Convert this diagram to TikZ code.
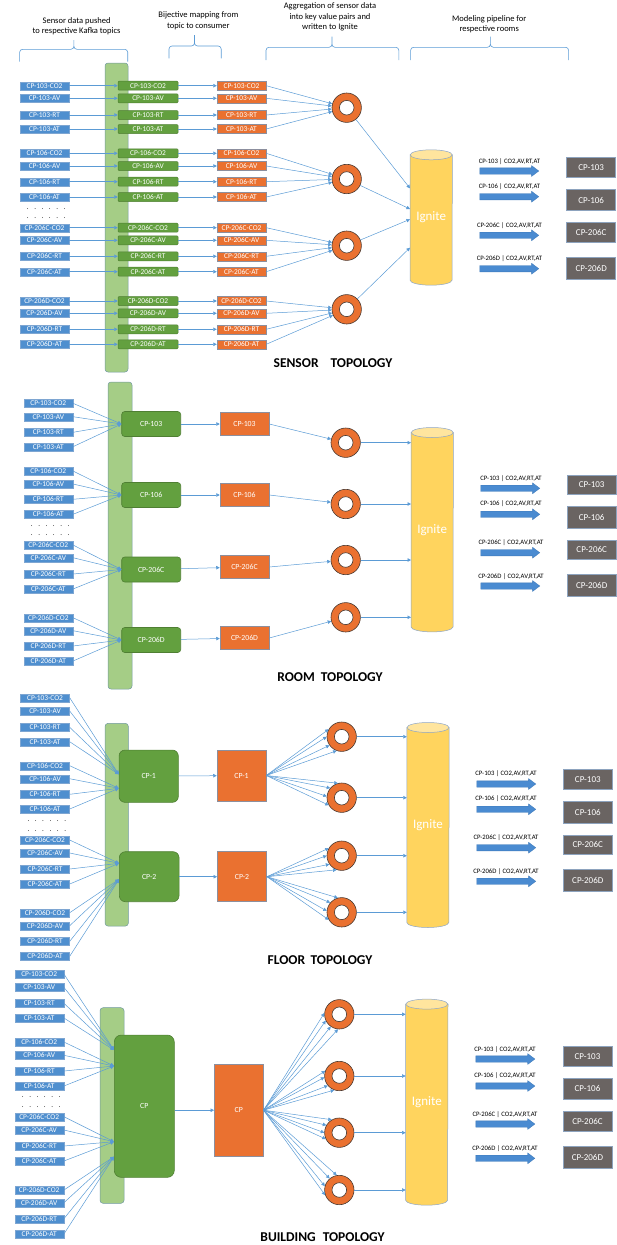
\documentclass[tikz,border=0pt]{standalone}
\usepackage{fontspec}
\setmainfont{Carlito}
\usetikzlibrary{arrows.meta,calc,shapes.arrows}
\pgfdeclarelayer{bg}
\pgfsetlayers{bg,main}
\definecolor{cBlue}{HTML}{4F8FCF}
\definecolor{cBlueD}{HTML}{7EA6D2}
\definecolor{cGreen}{HTML}{63A03F}
\definecolor{cGreenD}{HTML}{4F7F33}
\definecolor{cBar}{HTML}{A5CD86}
\definecolor{cBarD}{HTML}{7199A0}
\definecolor{cOrange}{HTML}{EA7130}
\definecolor{cOrangeD}{HTML}{8C8F9E}
\definecolor{cRingD}{HTML}{4A3A32}
\definecolor{cIg}{HTML}{FFD45E}
\definecolor{cIgTop}{HTML}{FFE59E}
\definecolor{cIgD}{HTML}{8CA5C8}
\definecolor{cGray}{HTML}{6A6462}
\definecolor{cGrayD}{HTML}{8DA3BE}
\definecolor{cLine}{HTML}{5B9BD5}
\definecolor{cArrow}{HTML}{4A8BD1}
\definecolor{cArrowD}{HTML}{3E79B8}
\tikzset{
 lbl/.style={text=white, inner sep=0pt, font=\fontsize{7.4}{8}\selectfont},
 bluebox/.style={lbl, fill=cBlue, draw=cBlueD, line width=0.4pt, minimum width=49pt, minimum height=8pt},
 greensm/.style={lbl, fill=cGreen, draw=cGreenD, line width=0.5pt, rounded corners=1pt, minimum width=60pt, minimum height=9pt},
 orangesm/.style={lbl, fill=cOrange, draw=cOrangeD, line width=0.4pt, minimum width=49pt, minimum height=9pt},
 greenbig/.style={lbl, font=\fontsize{7.8}{8}\selectfont, fill=cGreen, draw=cGreenD, line width=0.6pt},
 orangebig/.style={lbl, font=\fontsize{7.8}{8}\selectfont, fill=cOrange, draw=cOrangeD, line width=0.5pt},
 bar/.style={fill=cBar, draw=cBarD, line width=0.5pt, rounded corners=3pt, inner sep=0pt},
 ring/.style={circle, minimum size=29.4pt, inner sep=0pt, fill=cOrange, draw=cRingD, line width=0.6pt,
   path picture={\draw[cRingD, line width=0.6pt, fill=white] (path picture bounding box.center) circle[radius=7.3pt];}},
 conn/.style={draw=cLine, line width=0.5pt, -{Triangle[length=3.5pt,width=3.5pt]}},
 brace/.style={draw=cLine, line width=0.6pt},
 hdr/.style={align=center, font=\fontsize{8.5}{10.8}\selectfont, inner sep=0pt},
 ttl/.style={font=\fontsize{13.5}{15}\selectfont\bfseries, inner sep=0pt},
 rlab/.style={font=\fontsize{6.7}{8}\selectfont, inner sep=0pt},
 graybox/.style={fill=cGray, draw=cGrayD, line width=0.6pt, text=white, font=\fontsize{9}{10}\selectfont, minimum width=49pt, inner sep=0pt},
 barrow/.style={single arrow, fill=cArrow, draw=cArrowD, line width=0.3pt, minimum height=59pt, inner xsep=0pt, inner ysep=3pt, single arrow head extend=2.25pt, single arrow tip angle=74},
 igtext/.style={text=white, font=\fontsize{13}{15}\selectfont, inner sep=0pt, minimum width=42pt},
 dotrow/.style={font=\fontsize{7}{8}\selectfont, inner sep=0pt, anchor=west},
}
\newcommand\hbrace[6]{%
 \draw[brace] (#1,-#5) -- (#1,-#4-3) to[out=90,in=180] (#1+3,-#4) -- (#3-3,-#4) to[out=0,in=-90] (#3,-#4+3) -- (#3,-#6)
   -- (#3,-#4+3) to[out=-90,in=180] (#3+3,-#4) -- (#2-3,-#4) to[out=0,in=90] (#2,-#4-3) -- (#2,-#5);}
\newcommand\igcyl[4]{%
 \pgfmathsetmacro\igh{#4-#3}%
 \pgfmathsetmacro\igy{-(#3+#4)/2}%
 \node[igtext, minimum height=\igh pt] (#1) at (#2,\igy) {Ignite};
 \begin{pgfonlayer}{bg}
 \draw[draw=cIgD, line width=0.5pt, fill=cIg] (#1.north west) -- (#1.south west) arc[start angle=180, end angle=360, x radius=21pt, y radius=5pt] -- (#1.north east) -- cycle;
 \draw[draw=cIgD, line width=0.5pt, fill=cIgTop] (#1.north) ellipse[x radius=21pt, y radius=5pt];
 \end{pgfonlayer}}
\newcommand\dotsline{.\hspace{5.6pt}.\hspace{5.6pt}.\hspace{5.6pt}.\hspace{5.6pt}.\hspace{5.6pt}.}
\begin{document}
\begin{tikzpicture}[x=1pt,y=1pt]
\useasboundingbox (0,0) rectangle (616,-1245);
% ---------- headers
\node[hdr] (h1) at (76.6,-26.2) {Sensor data pushed\\to respective Kafka topics};
\node[hdr] (h2) at (198.4,-20.9) {Bijective mapping from\\topic to consumer};
\node[hdr] (h3) at (330,-16.9) {Aggregation of sensor data\\into key value pairs and\\written to Ignite};
\node[hdr] (h4) at (489.2,-24.2) {Modeling pipeline for\\respective rooms};
\hbrace{19.6}{127.7}{73.9}{49.3}{61.7}{40}
\hbrace{169}{221.2}{194.5}{46}{58.3}{35}
\hbrace{266}{398.8}{332}{47.3}{60}{36.7}
\hbrace{410.6}{568.6}{490.4}{47.3}{60}{36.7}
% ---------- SENSOR TOPOLOGY
\node[bar, minimum width=23pt, minimum height=309pt] (sbar) at (116.5,-217.5) {};
\foreach \y/\lab [count=\i] in {85.7/CP-103-CO2, 98.3/CP-103-AV, 115/CP-103-RT, 129/CP-103-AT, 153.3/CP-106-CO2, 166/CP-106-AV, 181.7/CP-106-RT, 197/CP-106-AT, 227.7/CP-206C-CO2, 240.3/CP-206C-AV, 256.3/CP-206C-RT, 271.7/CP-206C-AT, 301/CP-206D-CO2, 313.3/CP-206D-AV, 329.3/CP-206D-RT, 344.3/CP-206D-AT}{
  \node[bluebox] (sa\i) at (44.5,-\y) {\lab};
  \node[greensm] (sb\i) at (148,-\y) {\lab};
  \node[orangesm] (sc\i) at (241.5,-\y) {\lab};
}
\node[dotrow] (sd1) at (26.7,-209) {\dotsline};
\node[dotrow] (sd2) at (26.7,-218.3) {\dotsline};
\foreach \y [count=\k] in {107.7,179,245.7,309.3} \node[ring] (sr\k) at (346.7,-\y) {};
\igcyl{ig1}{431.2}{155}{280}
\coordinate (sI1) at ($(ig1.west)+(0,29.2)$);
\coordinate (sI2) at ($(ig1.west)+(0,8.5)$);
\coordinate (sI3) at ($(ig1.west)+(0,-1.8)$);
\coordinate (sI4) at ($(ig1.west)+(0,-30.2)$);
\foreach \i in {1,...,16}{
  \pgfmathtruncatemacro\grp{(\i-1)/4+1}
  \draw[conn] (sa\i) -- (sb\i);
  \draw[conn] (sb\i) -- (sc\i);
  \draw[conn] (sc\i.east) -- (sr\grp);
}
\foreach \k in {1,...,4} \draw[conn] (sr\k) -- (sI\k);
\foreach \ya/\yl/\yg/\hg/\lab [count=\k] in {171/161.7/167.5/20/CP-103, 196.7/186.7/200/21/CP-106, 235.3/225.7/232.5/20/CP-206C, 268.7/259/268/22/CP-206D}{
  \node[barrow] (sA\k) at (507.2,-\ya) {};
  \node[rlab] (sL\k) at (509.5,-\yl) {\lab{} | CO2,AV,RT,AT};
  \node[graybox, minimum height=\hg pt] (sG\k) at (591.2,-\yg) {\lab};
}
\node[ttl] (t1) at (333,-363) {SENSOR\hspace{12pt}TOPOLOGY};
% ---------- ROOM TOPOLOGY
\node[bar, minimum width=24pt, minimum height=307pt] (rbar) at (120,-535.5) {};
\foreach \y/\lab [count=\i] in {403.3/CP-103-CO2, 416.7/CP-103-AV, 432.3/CP-103-RT, 446.7/CP-103-AT, 471/CP-106-CO2, 484/CP-106-AV, 499.3/CP-106-RT, 514.3/CP-106-AT, 545/CP-206C-CO2, 557.7/CP-206C-AV, 574/CP-206C-RT, 589/CP-206C-AT, 617.7/CP-206D-CO2, 630.7/CP-206D-AV, 646/CP-206D-RT, 661/CP-206D-AT}{
  \node[bluebox] (ra\i) at (48.3,-\y) {\lab};
}
\node[dotrow] (rd1) at (30.7,-525.7) {\dotsline};
\node[dotrow] (rd2) at (30.7,-535) {\dotsline};
\foreach \y/\lab [count=\k] in {424/CP-103, 495/CP-106, 569.5/CP-206C, 640/CP-206D}
  \node[greenbig, rounded corners=3pt, minimum width=59pt, minimum height=25pt] (rb\k) at (151.2,-\y) {\lab};
\foreach \y/\lab [count=\k] in {424/CP-103, 495/CP-106, 567/CP-206C, 638/CP-206D}
  \node[orangebig, minimum width=49pt, minimum height=23pt] (rc\k) at (244.5,-\y) {\lab};
\foreach \y [count=\k] in {442.7,504,560,617.3} \node[ring] (rr\k) at (345.7,-\y) {};
\igcyl{ig2}{432.2}{432.7}{626.7}
\foreach \i in {1,...,16}{
  \pgfmathtruncatemacro\grp{(\i-1)/4+1}
  \draw[conn] (ra\i.east) -- (rb\grp.west);
}
\foreach \k in {1,...,4}{
  \draw[conn] (rb\k) -- (rc\k);
  \draw[conn] (rc\k.east) -- (rr\k);
  \draw[conn] (rr\k) -- (rr\k -| ig2.west);
}
\foreach \ya/\yl/\yg/\hg/\lab [count=\k] in {488.3/478.3/484.7/19.5/CP-103, 514.3/503.7/517.3/22/CP-106, 552.7/542.3/549.7/19.5/CP-206C, 586/576.3/585/22/CP-206D}{
  \node[barrow] (rA\k) at (508.2,-\ya) {};
  \node[rlab] (rL\k) at (511,-\yl) {\lab{} | CO2,AV,RT,AT};
  \node[graybox, minimum height=\hg pt] (rG\k) at (591.7,-\yg) {\lab};
}
\node[ttl] (t2) at (330,-676.7) {ROOM\hspace{6pt}TOPOLOGY};
% ---------- FLOOR TOPOLOGY
\node[bar, minimum width=23.3pt, minimum height=202.7pt] (fbar) at (116.7,-824.7) {};
\foreach \y/\lab [count=\i] in {697.7/CP-103-CO2, 711/CP-103-AV, 727.3/CP-103-RT, 741.7/CP-103-AT, 765.7/CP-106-CO2, 778.7/CP-106-AV, 794.3/CP-106-RT, 809/CP-106-AT, 840/CP-206C-CO2, 853/CP-206C-AV, 869/CP-206C-RT, 884/CP-206C-AT, 912.7/CP-206D-CO2, 925.7/CP-206D-AV, 941.3/CP-206D-RT, 956.3/CP-206D-AT}{
  \node[bluebox] (fa\i) at (45,-\y) {\lab};
}
\node[dotrow] (fd1) at (27.3,-820.7) {\dotsline};
\node[dotrow] (fd2) at (27.3,-830.7) {\dotsline};
\node[greenbig, rounded corners=6pt, minimum width=59.3pt, minimum height=52.3pt] (fb1) at (148.7,-776.2) {CP-1};
\node[greenbig, rounded corners=6pt, minimum width=59.7pt, minimum height=50pt] (fb2) at (149.2,-876.7) {CP-2};
\node[orangebig, minimum width=49pt, minimum height=51pt] (fo1) at (241.5,-775.5) {CP-1};
\node[orangebig, minimum width=49.4pt, minimum height=50pt] (fo2) at (242,-876.7) {CP-2};
\coordinate (fp1) at ($(fb1.west)+(0,1.9)$);
\coordinate (fp2) at ($(fb1.west)+(0,-12.1)$);
\coordinate (fp3) at ($(fb2.west)+(0,13.4)$);
\coordinate (fp4) at ($(fb2.west)+(0,-2.6)$);
\foreach \y [count=\k] in {736.7,797.7,855.7,912.3} \node[ring] (fr\k) at (341.7,-\y) {};
\igcyl{ig3}{428}{727.7}{922.3}
\foreach \i in {1,...,16}{
  \pgfmathtruncatemacro\grp{(\i-1)/4+1}
  \draw[conn] (fa\i.east) -- (fp\grp);
}
\draw[conn] (fb1) -- (fo1);
\draw[conn] (fb2) -- (fo2);
\foreach \a in {150,180,215,250}{ \draw[conn] (fo1.east) -- (fr1.\a); \draw[conn] (fo2.east) -- (fr3.\a); }
\foreach \a in {105,140,175,210}{ \draw[conn] (fo1.east) -- (fr2.\a); \draw[conn] (fo2.east) -- (fr4.\a); }
\foreach \k in {1,...,4} \draw[conn] (fr\k) -- (fr\k -| ig3.west);
\foreach \ya/\yl/\yg/\hg/\lab [count=\k] in {784/773.3/779.3/20/CP-103, 809.3/798.3/812/22/CP-106, 847.7/837.3/844.7/19.5/CP-206C, 881.3/871.7/880.3/22.5/CP-206D}{
  \node[barrow] (fA\k) at (504.2,-\ya) {};
  \node[rlab] (fL\k) at (506,-\yl) {\lab{} | CO2,AV,RT,AT};
  \node[graybox, minimum height=\hg pt] (fG\k) at (587.8,-\yg) {\lab};
}
\node[ttl] (t3) at (320,-960) {FLOOR\hspace{5.5pt}TOPOLOGY};
% ---------- BUILDING TOPOLOGY
\node[bar, minimum width=24pt, minimum height=195.6pt] (bbar) at (112,-1105.5) {};
\foreach \y/\lab [count=\i] in {974/CP-103-CO2, 987.3/CP-103-AV, 1003.3/CP-103-RT, 1018/CP-103-AT, 1042/CP-106-CO2, 1055.3/CP-106-AV, 1071/CP-106-RT, 1086/CP-106-AT, 1116.7/CP-206C-CO2, 1130/CP-206C-AV, 1146/CP-206C-RT, 1161/CP-206C-AT, 1190/CP-206D-CO2, 1202.7/CP-206D-AV, 1218.7/CP-206D-RT, 1234/CP-206D-AT}{
  \node[bluebox] (ba\i) at (39.2,-\y) {\lab};
}
\node[dotrow] (bd1) at (21.7,-1096.7) {\dotsline};
\node[dotrow] (bd2) at (21.7,-1106.7) {\dotsline};
\node[greenbig, rounded corners=7pt, minimum width=60pt, minimum height=142.3pt] (bgr) at (144.3,-1106.2) {CP};
\node[orangebig, minimum width=49pt, minimum height=91.7pt] (bor) at (238.8,-1110.2) {CP};
\coordinate (bp1) at ($(bgr.west)+(0,56.2)$);
\coordinate (bp2) at ($(bgr.west)+(0,40.2)$);
\coordinate (bp3) at ($(bgr.west)+(0,-35.5)$);
\coordinate (bp4) at ($(bgr.west)+(0,-50.5)$);
\foreach \y [count=\k] in {1014.3,1076,1132.7,1190} \node[ring] (br\k) at (339.3,-\y) {};
\igcyl{ig4}{426.8}{1004.3}{1200}
\foreach \i in {1,...,16}{
  \pgfmathtruncatemacro\grp{(\i-1)/4+1}
  \draw[conn] (ba\i.east) -- (bp\grp);
}
\draw[conn] (bgr.east |- bor.west) -- (bor.west);
\foreach \a in {175,205,235,265} \draw[conn] (bor.east) -- (br1.\a);
\foreach \a in {160,185,220,250} \draw[conn] (bor.east) -- (br2.\a);
\foreach \a in {120,150,180,205} \draw[conn] (bor.east) -- (br3.\a);
\foreach \a in {100,130,165,200} \draw[conn] (bor.east) -- (br4.\a);
\foreach \k in {1,...,4} \draw[conn] (br\k) -- (br\k -| ig4.west);
\foreach \ya/\yl/\yg/\hg/\lab [count=\k] in {1059/1050/1056.3/20.5/CP-103, 1086/1075.7/1088.8/21/CP-106, 1124/1114.3/1121.7/20/CP-206C, 1158.3/1148.7/1157/22.3/CP-206D}{
  \node[barrow] (bA\k) at (503.3,-\ya) {};
  \node[rlab] (bL\k) at (505,-\yl) {\lab{} | CO2,AV,RT,AT};
  \node[graybox, minimum height=\hg pt] (bG\k) at (587.5,-\yg) {\lab};
}
\node[ttl] (t4) at (322.5,-1237.5) {BUILDING\hspace{7pt}TOPOLOGY};
\end{tikzpicture}
\end{document}
